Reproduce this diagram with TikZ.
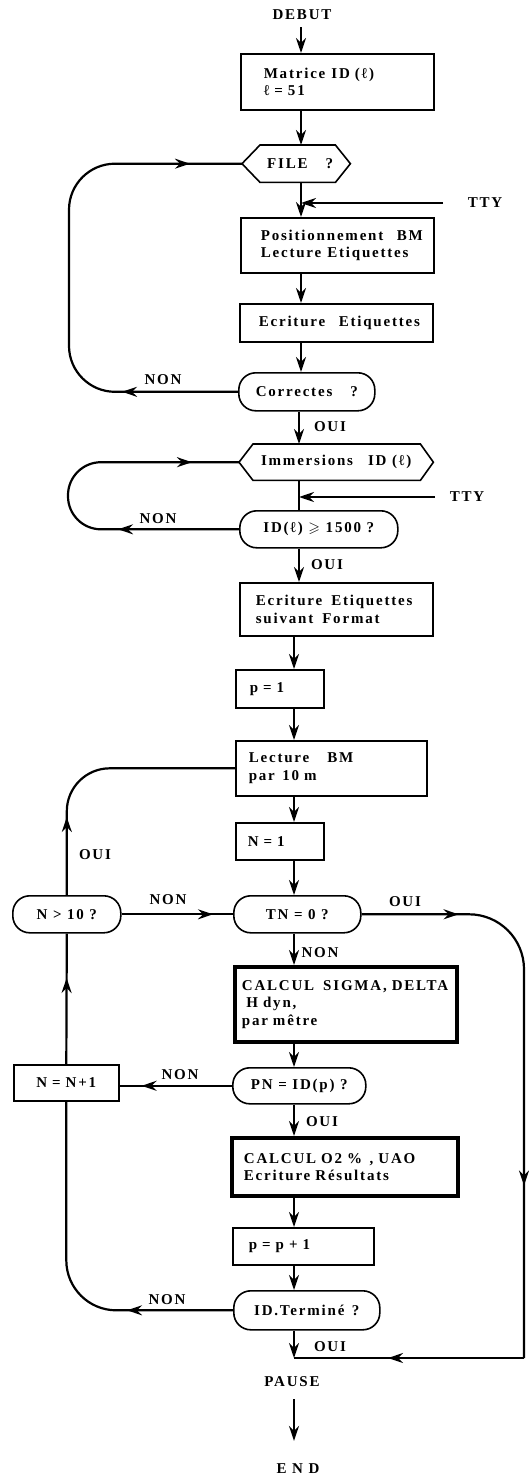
\documentclass[tikz,border=0pt]{standalone}
\usepackage{fontspec}
\usepackage{amssymb}
\setmainfont{Liberation Serif}[LetterSpace=12]
\usetikzlibrary{arrows.meta,decorations.markings}
\tikzset{
  every node/.style={font=\fontsize{15}{17.5}\selectfont\bfseries},
  Hd/.tip={Stealth[length=15pt,width=10pt,inset=5pt]},
  ln/.style={line width=2.2pt},
  arr/.style={ln,-Hd},
  box/.style={draw,line width=1.6pt,rectangle,anchor=north west,align=left,inner ysep=0pt},
  thickbox/.style={box,line width=3.8pt},
  term/.style={draw,line width=1.6pt,rectangle,rounded corners=17pt,anchor=north west,align=center,inner sep=0pt},
  hexnode/.style={rectangle,anchor=north west,inner sep=0pt},
  hexline/.style={line width=1.6pt,line join=miter},
  lbl/.style={inner sep=1pt},
  midarr/.style={postaction={decorate,decoration={markings,#1}}},
}
\begin{document}
\begin{tikzpicture}[x=1pt,y=-1pt]
\useasboundingbox (0,0) rectangle (529,1479);
% columns
\coordinate (colA) at (301,0);
\coordinate (colB) at (299,0);
\coordinate (colC) at (294,0);
\coordinate (lx1) at (69,0);
\coordinate (lx2) at (68,0);
\coordinate (rx) at (524,0);
\coordinate (t1) at (443,203);
\coordinate (t2) at (435,497);
\coordinate (j) at (294,1358);

% nodes
\node[lbl] (debut) at (302,15) {DEBUT};
\node[box,inner xsep=23pt,text width=147pt,minimum height=56pt] (mat) at (240,53)
  {\mbox{Matrice\hspace{0.4em}ID (ℓ)}\\\mbox{ℓ = 51}};
\node[hexnode,minimum width=108pt,minimum height=37pt] (file) at (242,145) {\hspace{8pt}FILE\hspace{1.2em}?};
\draw[hexline] (file.west) -- ([xshift=18pt]file.north west) -- ([xshift=-15pt]file.north east)
  -- (file.east) -- ([xshift=-15pt]file.south east) -- ([xshift=18pt]file.south west) -- cycle;
\node[lbl] (tty1) at (485,203) {TTY};
\node[box,inner xsep=20pt,text width=153pt,minimum height=55pt] (pos) at (240,217)
  {\mbox{Positionnement\hspace{0.9em}BM}\\\mbox{Lecture\hspace{0.4em}Etiquettes}};
\node[box,inner xsep=19pt,text width=155pt,minimum height=38pt] (ecr) at (239,303)
  {\mbox{Ecriture\hspace{0.9em}Etiquettes}};
\node[term,minimum width=136pt,minimum height=38pt] (corr) at (238,372) {Correctes\hspace{1.2em}?};
\node[lbl] (non1) at (163,380) {NON};
\node[lbl] (oui1) at (330,427) {OUI};
\node[hexnode,minimum width=194pt,minimum height=36pt] (imm) at (239,444) {Immersions\hspace{1em}ID (ℓ)};
\draw[hexline] (imm.west) -- ([xshift=14pt]imm.north west) -- ([xshift=-13pt]imm.north east)
  -- (imm.east) -- ([xshift=-13pt]imm.south east) -- ([xshift=14pt]imm.south west) -- cycle;
\node[lbl] (tty2) at (467,497) {TTY};
\node[term,minimum width=158pt,minimum height=37pt] (idg) at (239,510) {ID(ℓ) $\geqslant$ 1500 ?};
\node[lbl] (non2) at (158,519) {NON};
\node[lbl] (oui2) at (327,565) {OUI};
\node[box,inner xsep=16pt,text width=161pt,minimum height=53pt] (ecr2) at (239,582)
  {\mbox{Ecriture\hspace{0.6em}Etiquettes}\\\mbox{suivant\hspace{0.6em}Format}};
\node[box,inner xsep=14pt,text width=60pt,minimum height=38pt] (p1) at (235,669) {\mbox{p = 1}};
\node[box,inner xsep=13pt,text width=165pt,minimum height=55pt] (lect) at (235,740)
  {\mbox{Lecture\hspace{1.2em}BM}\\\mbox{par\hspace{0.5em}10 m}};
\node[box,inner xsep=12pt,text width=64pt,minimum height=37pt] (n1) at (235,822) {\mbox{N = 1}};
\node[lbl] (oui3) at (95,855) {OUI};
\node[term,minimum width=108pt,minimum height=37pt] (ngt) at (12,895) {N > 10 ?};
\node[lbl] (non3) at (168,900) {NON};
\node[term,minimum width=127pt,minimum height=37pt] (tn) at (233,895) {TN = 0 ?};
\node[lbl] (oui4) at (405,902) {OUI};
\node[lbl] (non4) at (320,953) {NON};
\node[thickbox,inner xsep=7pt,text width=208pt,minimum height=75pt] (calc) at (233,965)
  {\mbox{CALCUL\hspace{0.6em}SIGMA, DELTA}\\\mbox{\hspace{0.3em}H dyn,}\\\mbox{par mêtre}};
\node[term,minimum width=133pt,minimum height=36pt] (pn) at (232,1067) {PN = ID(p) ?};
\node[lbl] (non5) at (180,1075) {NON};
\node[box,inner xsep=10pt,text width=85pt,minimum height=36pt,align=center] (nn1) at (13,1064) {\mbox{N = N+1}};
\node[lbl] (oui5) at (322,1122) {OUI};
\node[thickbox,inner xsep=12pt,text width=202pt,minimum height=58pt] (calc2) at (230,1136)
  {\mbox{CALCUL O2 \%\hspace{0.5em}, UAO}\\\mbox{Ecriture Résultats}};
\node[box,inner xsep=16pt,text width=109pt,minimum height=37pt] (pp1) at (232,1227) {\mbox{p = p + 1}};
\node[term,minimum width=146pt,minimum height=39pt] (idt) at (233,1290) {ID.Terminé\hspace{0.5em}?};
\node[lbl] (non6) at (167,1300) {NON};
\node[lbl] (oui6) at (330,1347) {OUI};
\node[lbl] (pause) at (292,1382) {PAUSE};
\node[lbl] (end) at (298,1469) {E N D};

% main column
\draw[arr,shorten <=6pt] (debut.south -| colA) -- (mat.north -| colA);
\draw[arr] (mat.south -| colA) -- (file.north -| colA);
\draw[arr] (file.south -| colA) -- (pos.north -| colA);
\draw[arr] (t1) -- (t1 -| colA);
\draw[arr] (pos.south -| colA) -- (ecr.north -| colA);
\draw[arr] (ecr.south -| colA) -- (corr.north -| colA);
\draw[arr] (corr.south -| colB) -- (imm.north -| colB);
\draw[ln] (imm.south -| colB) -- (idg.north -| colB);
\draw[arr] (t2) -- (t2 -| colB);
\draw[arr] (idg.south -| colB) -- (ecr2.north -| colB);
\draw[arr] (ecr2.south -| colC) -- (p1.north -| colC);
\draw[arr] (p1.south -| colC) -- (lect.north -| colC);
\draw[arr] (lect.south -| colC) -- (n1.north -| colC);
\draw[arr] (n1.south -| colC) -- (tn.north -| colC);
\draw[arr] (tn.south -| colC) -- (calc.north -| colC);
\draw[arr] (calc.south -| colC) -- (pn.north -| colC);
\draw[arr] (pn.south -| colC) -- (calc2.north -| colC);
\draw[arr] (calc2.south -| colC) -- (pp1.north -| colC);
\draw[arr] (pp1.south -| colC) -- (idt.north -| colC);
\draw[arr] (idt.south -| colC) -- (j);
\draw[arr,shorten <=11pt,shorten >=22pt] (pause.south -| colC) -- (end.north -| colC);

% loops
\draw[ln,rounded corners=46pt,midarr={mark=at position 116pt with {\arrow{Hd}},mark=at position -52pt with {\arrow{Hd}}}]
  (corr.west) -- (corr.west -| lx1) -- (lx1 |- file.west) -- (file.west);
\draw[ln,rounded corners=33pt,midarr={mark=at position 121pt with {\arrow{Hd}},mark=at position -47pt with {\arrow{Hd}}}]
  (idg.west) -- (idg.west -| lx2) -- (lx2 |- imm.west) -- (imm.west);
\draw[ln,rounded corners=43pt,midarr={mark=at position 78pt with {\arrow{Hd}}}]
  (ngt.north) -- (ngt.north |- lect.west) -- (lect.west);
\draw[ln,midarr={mark=at position -20pt with {\arrow{Hd}}}] (ngt.east) -- (tn.west);
\draw[ln,midarr={mark=at position -22pt with {\arrow{Hd}}}] (pn.west) -- (pn.west -| nn1.east);
\draw[ln,midarr={mark=at position 86pt with {\arrow{Hd}}}] (nn1.north) -- (ngt.south);
\draw[ln,rounded corners=50pt,midarr={mark=at position 106pt with {\arrow{Hd}}}]
  (idt.west) -- (idt.west -| nn1.south) -- (nn1.south);
\draw[ln,rounded corners=55pt,midarr={mark=at position 97pt with {\arrow{Hd}},mark=at position 410pt with {\arrow{Hd}}}]
  (tn.east) -- (tn.east -| rx) -- (rx |- j);
\draw[ln,midarr={mark=at position 136pt with {\arrow{Hd}}}] (rx |- j) -- (j);
\end{tikzpicture}
\end{document}
